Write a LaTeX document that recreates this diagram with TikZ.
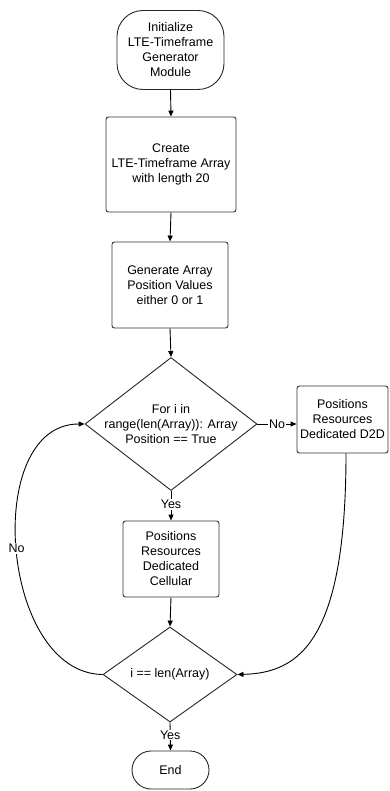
\documentclass[tikz,border=0pt]{standalone}
\usepackage{fontspec}
\setmainfont{Liberation Sans}
\usetikzlibrary{arrows.meta,shapes.geometric}
\begin{document}
\begin{tikzpicture}[x=1pt,y=-1pt,
  every node/.style={font=\fontsize{12.5}{15}\selectfont, align=center, inner sep=0pt},
  boxst/.style={draw=black!80, line width=0.9pt, rounded corners=2.5pt, rectangle},
  termst/.style={draw=black!85, line width=0.9pt, rectangle},
  decst/.style={draw=black!85, line width=0.9pt, diamond, inner sep=0pt},
  arr/.style={draw=black, line width=0.9pt, -{Triangle[length=6pt,width=5pt]}},
  lbl/.style={fill=white, inner sep=1pt}]
\useasboundingbox (0,0) rectangle (389,791);
\node[termst, rounded corners=26pt, minimum width=107pt, minimum height=79pt] (start) at (170.5,50) {Initialize\\LTE-Timeframe\\Generator\\Module};
\node[boxst, minimum width=130pt, minimum height=95pt] (create) at (171,164.5) {Create\\LTE-Timeframe Array\\with length 20};
\node[boxst, minimum width=116pt, minimum height=86pt] (gen) at (170,285) {Generate Array\\Position Values\\either 0 or 1};
\node[decst, minimum width=172pt, minimum height=133pt] (d1) at (171,424) {};
\node (d1t) at (d1) {For i in\\range(len(Array)): Array\\Position == True};
\node[boxst, minimum width=91pt, minimum height=67pt] (d2d) at (342.5,419.5) {Positions\\Resources\\Dedicated D2D};
\node[boxst, minimum width=96pt, minimum height=76pt] (cell) at (171,559) {Positions\\Resources\\Dedicated\\Cellular};
\node[decst, minimum width=134pt, minimum height=95pt] (d2) at (170,674.5) {};
\node (d2t) at (d2) {i == len(Array)};
\node[termst, rounded corners=19pt, minimum width=77pt, minimum height=38pt] (end) at (170.5,770) {End};

\draw[arr] (start.south) -- (create.north);
\draw[arr] (create.south) -- (gen.north);
\draw[arr] (gen.south) -- (d1.north);
\draw[arr] (d1.east) -- (d1.east -| d2d.west) node[lbl, pos=0.5] {No};
\draw[arr] (d1.south) -- (cell.north) node[lbl, pos=0.45] {Yes};
\draw[arr] (cell.south) -- (d2.north);
\draw[arr] (d2.south) -- (end.north) node[lbl, pos=0.45] {Yes};
\draw[arr] (d2.west) .. controls (0,673) and (-18,424) .. (d1.west) node[lbl, pos=0.5] {No};
\draw[arr] (d2d.south -| 346,0) .. controls (346,640) and (300,673) .. (d2.east);
\end{tikzpicture}
\end{document}
